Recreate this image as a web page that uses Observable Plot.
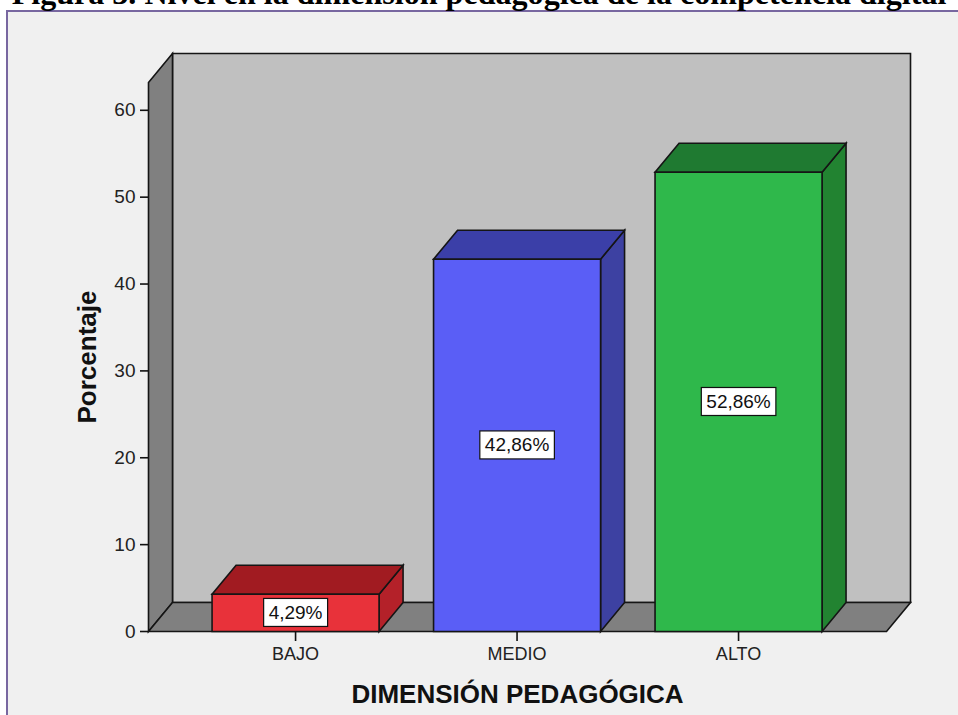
<!DOCTYPE html>
<html><head><meta charset="utf-8">
<script src="https://cdn.jsdelivr.net/npm/d3@7"></script>
<script src="https://cdn.jsdelivr.net/npm/@observablehq/plot@0.6"></script>
<style>
html,body{margin:0;padding:0;background:#fff;width:958px;height:715px;overflow:hidden;}
#frame{position:absolute;left:6px;top:10px;width:980px;height:740px;border-left:2px solid #7867a0;border-top:2px solid #7867a0;background:#f0f0f0;}
#title{position:absolute;left:0;top:-16px;width:958px;text-align:center;font-family:"Liberation Serif","Times New Roman",serif;font-weight:bold;font-size:28px;line-height:28px;white-space:nowrap;color:#000;}
#chart{position:absolute;left:0;top:0;}
</style></head><body>
<div id="frame"></div>
<div id="title"><span id="titletext">Figura 3. Nivel en la dimensión pedagógica de la competencia digital</span></div>
<div id="chart"></div>
<script>
// ---- data ----
const categories = ["BAJO", "MEDIO", "ALTO"];
const percentages = [4.29, 42.86, 52.86];
const valueLabels = ["4,29%", "42,86%", "52,86%"];
const yTicks = [0, 10, 20, 30, 40, 50, 60];
const xTitle = "DIMENSIÓN PEDAGÓGICA";
const yTitle = "Porcentaje";

// ---- styles ----
const frontColors = ["#e8323a", "#5a5ef6", "#2fb84b"];
const topColors = ["#a11b21", "#3b3fa8", "#1f7a31"];
const sideColors = ["#b42129", "#3d41a2", "#228331"];
const backWall = "#c0c0c0", sideWall = "#808080", edge = "#151515";

// ---- layout ----
const W = 958, H = 715, ML = 148, MR = 72, MT = 82, MB = 84;
const X0 = -0.664, X1 = categories.length - 1 + 0.668, YMAX = 63.2;
const pxX = (W - ML - MR) / (X1 - X0);
const pxY = (H - MT - MB) / YMAX;
const DX = 24 / pxX, DY = 29 / pxY;   // 3D depth converted to data units
const HALF = 0.377;                    // half bar width in band units

const polys = [];
let pid = 0;
function poly(fill, pts) { const id = pid++; for (const [x, y] of pts) polys.push({id, fill, x, y}); }
poly(backWall, [[X0 + DX, DY], [X1 + DX, DY], [X1 + DX, YMAX + DY], [X0 + DX, YMAX + DY]]);
poly(sideWall, [[X0, 0], [X0 + DX, DY], [X0 + DX, YMAX + DY], [X0, YMAX]]);
poly(sideWall, [[X0, 0], [X1, 0], [X1 + DX, DY], [X0 + DX, DY]]);
categories.forEach((c, i) => {
  const v = percentages[i], a = i - HALF, b = i + HALF;
  poly(sideColors[i], [[b, 0], [b + DX, DY], [b + DX, v + DY], [b, v]]);
  poly(topColors[i], [[a, v], [b, v], [b + DX, v + DY], [a + DX, v + DY]]);
  poly(frontColors[i], [[a, 0], [b, 0], [b, v], [a, v]]);
});

const labelData = categories.map((c, i) => ({x: i, y: percentages[i] / 2, label: valueLabels[i]}));

const svg = Plot.plot({
  width: W, height: H,
  marginLeft: ML, marginRight: MR, marginTop: MT, marginBottom: MB,
  x: {domain: [X0, X1]},
  y: {domain: [0, YMAX]},
  color: {type: "identity"},
  style: {fontFamily: '"Liberation Sans", Arial, sans-serif', background: "transparent", overflow: "visible", color: "#111"},
  marks: [
    Plot.line(polys, {x: "x", y: "y", z: "id", fill: "fill", stroke: edge, strokeWidth: 1.6,
      curve: "linear-closed", strokeLinejoin: "miter", strokeMiterlimit: 4, strokeLinecap: "butt"}),
    Plot.axisY(yTicks, {tickSize: 8, tickPadding: 5, fontSize: 19, strokeWidth: 1.6, label: null, fill: "#222"}),
    Plot.axisX([0, 1, 2], {tickFormat: i => categories[i], tickSize: 10, tickPadding: 6, fontSize: 18, strokeWidth: 1.6, label: null, fill: "#222"}),
    Plot.text([yTitle], {text: d => d, frameAnchor: "left", dx: -61, rotate: -90, textAnchor: "middle", lineAnchor: "middle", fontSize: 26, fontWeight: "bold", fill: "#111"}),
    Plot.text([xTitle], {text: d => d, frameAnchor: "bottom", dy: 63, textAnchor: "middle", lineAnchor: "middle", fontSize: 26, fontWeight: "bold", fill: "#111"}),
    Plot.text(labelData, {x: "x", y: "y", text: "label", fontSize: 19, fill: "#111"})
  ]
});
document.getElementById("chart").append(svg);

// white boxes behind the value labels
svg.querySelectorAll("text").forEach(t => {
  if (!valueLabels.includes(t.textContent)) return;
  const b = t.getBBox();
  const r = document.createElementNS("http://www.w3.org/2000/svg", "rect");
  r.setAttribute("x", b.x - 5); r.setAttribute("y", b.y - 3.5);
  r.setAttribute("width", b.width + 10); r.setAttribute("height", b.height + 7);
  r.setAttribute("fill", "#fff"); r.setAttribute("stroke", "#111"); r.setAttribute("stroke-width", 1.2);
  const tr = t.getAttribute("transform"); if (tr) r.setAttribute("transform", tr);
  t.parentNode.insertBefore(r, t);
});

// fit title width to ~935px with baseline at y≈4
const span = document.getElementById("titletext");
const title = document.getElementById("title");
const w = span.getBoundingClientRect().width;
const fs = 28 * 935 / w;
title.style.fontSize = fs + "px";
title.style.lineHeight = fs + "px";
title.style.top = (4 - 0.8375 * fs) + "px";
</script>
</body></html>
